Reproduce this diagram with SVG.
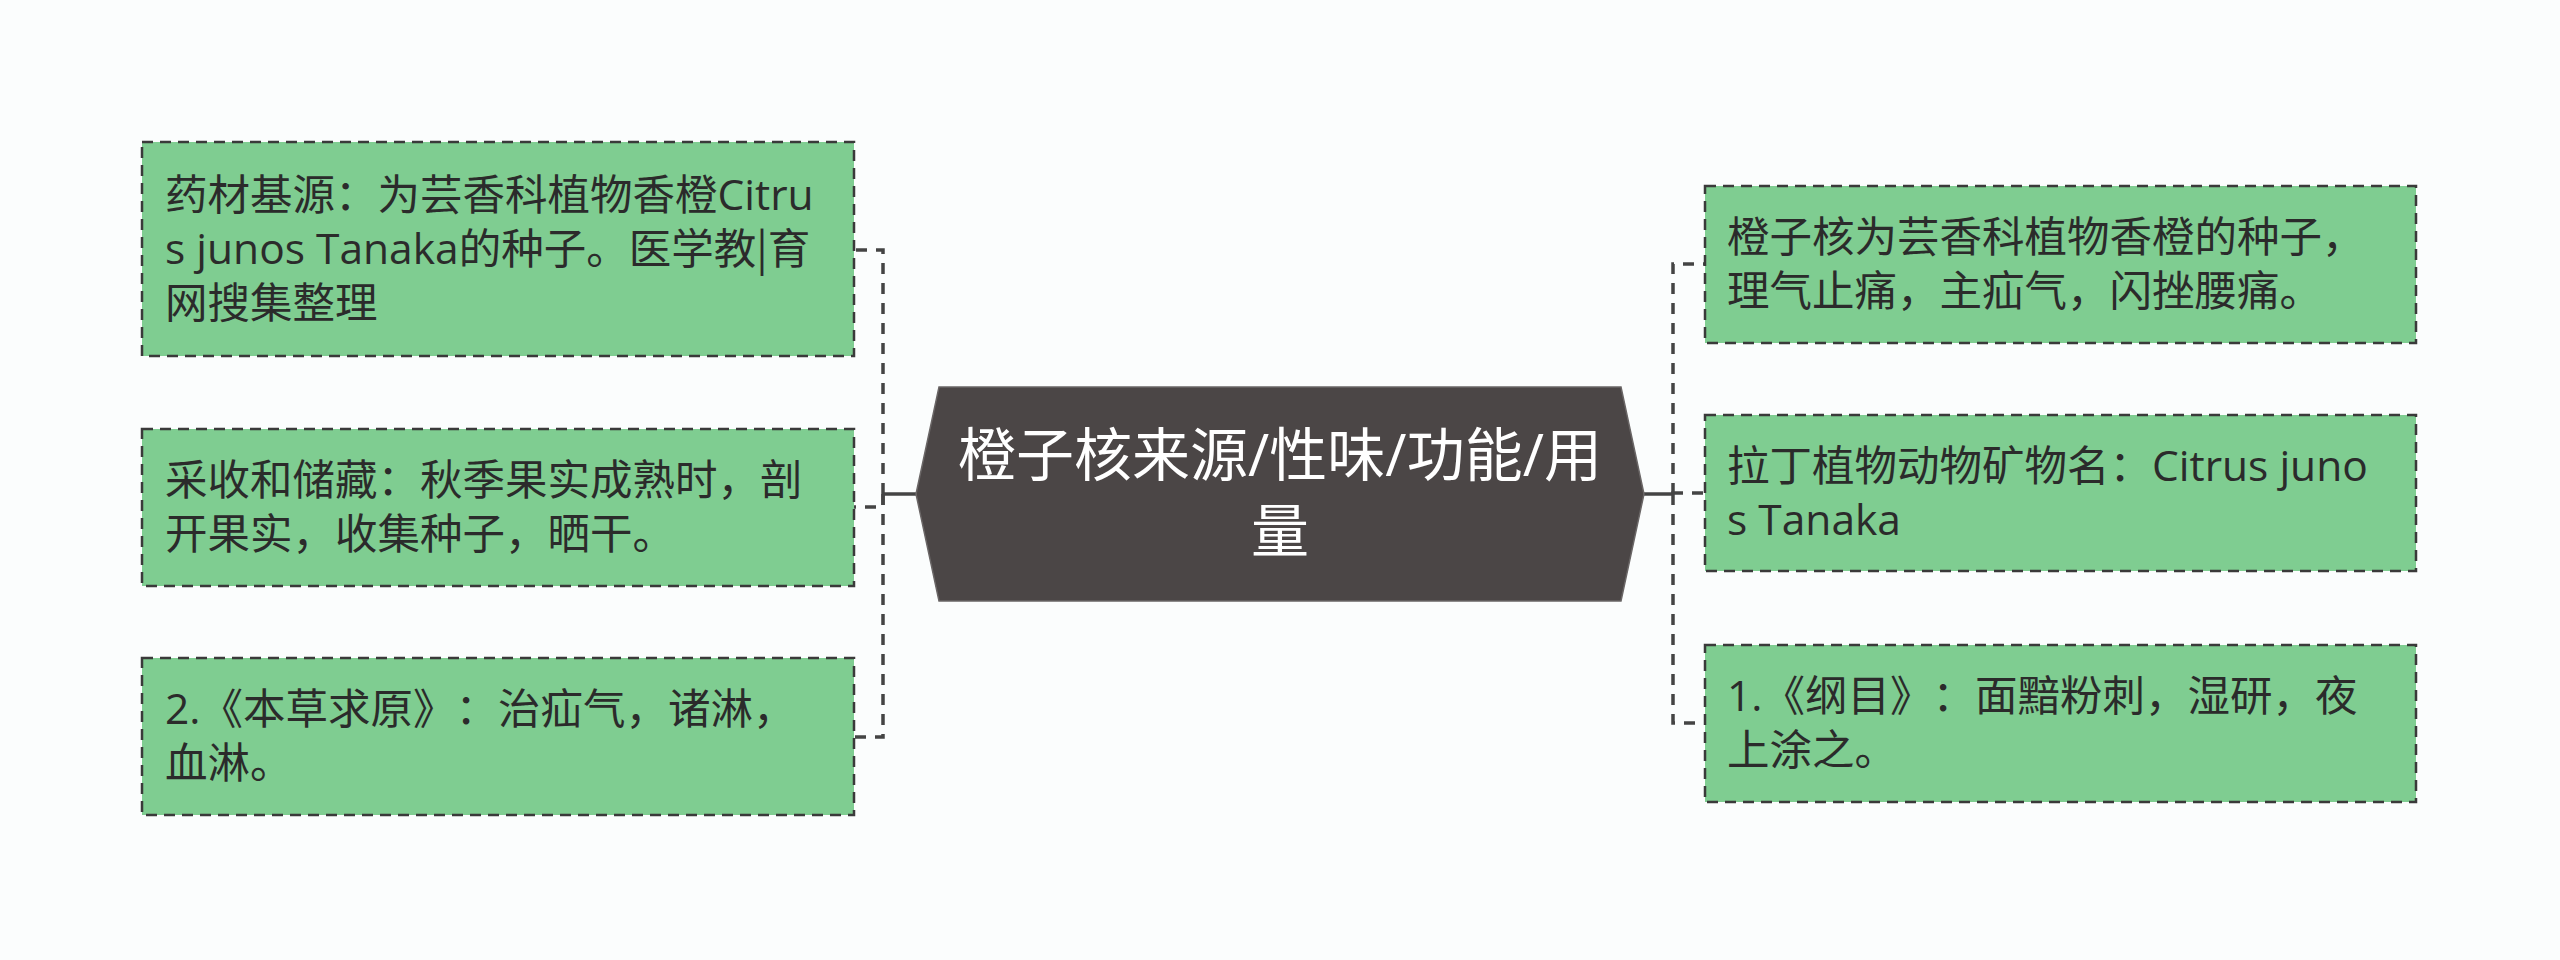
<svg xmlns="http://www.w3.org/2000/svg" width="2560" height="960" viewBox="0 0 2560 960">
<style>
.bg{fill:#fbfdfd}
.box{fill:#7fcd91;stroke:#3a3a3a;stroke-width:2.5;stroke-dasharray:11 7}
.t{font-family:"Open Sans","Noto Sans CJK SC",sans-serif;font-size:42.5px;fill:#2b2b2b;text-spacing-trim:space-all}
.cj{font-family:"Noto Sans CJK SC",sans-serif}
.ct{font-family:"Open Sans","Noto Sans CJK SC",sans-serif;font-size:58px;fill:#ffffff;text-anchor:middle}
.c{fill:none;stroke:#444;stroke-width:3.5;stroke-dasharray:11 9}
.cs{fill:none;stroke:#444;stroke-width:3.5}
</style>
<rect class="bg" x="0" y="0" width="2560" height="960"/>
<g id="connectors">
<path class="cs" d="M916 494 H883"/>
<path class="c" d="M883 494 V250 H854"/>
<path class="c" d="M883 494 V507 H854"/>
<path class="c" d="M883 494 V737 H854"/>
<path class="cs" d="M1644 494 H1673"/>
<path class="c" d="M1673 494 V264 H1705"/>
<path class="c" d="M1673 494 V493 H1705"/>
<path class="c" d="M1673 494 V723 H1705"/>
</g>
<g id="root">
<polygon points="916,494 939,387 1621,387 1644,494 1621,601 939,601" fill="#4b4646" stroke="#6a6666" stroke-width="1.5"/>
<text class="ct" x="1280" y="476">橙子核来源/性味/功能/用</text>
<text class="ct" x="1280" y="552">量</text>
</g>
<g id="left1">
<rect class="box" x="142" y="142" width="712" height="214"/>
<text class="t" x="165" y="210">药材基源：为芸香科植物香橙Citru</text>
<text class="t" x="165" y="264">s junos Tanaka的种子。医学教<tspan class="cj">|</tspan>育</text>
<text class="t" x="165" y="318">网搜集整理</text>
</g>
<g id="left2">
<rect class="box" x="142" y="429" width="712" height="157"/>
<text class="t" x="165" y="495">采收和储藏：秋季果实成熟时，剖</text>
<text class="t" x="165" y="549">开果实，收集种子，晒干。</text>
</g>
<g id="left3">
<rect class="box" x="142" y="658" width="712" height="157"/>
<text class="t" x="165" y="724">2.《本草求原》：治疝气，诸淋，</text>
<text class="t" x="165" y="778">血淋。</text>
</g>
<g id="right1">
<rect class="box" x="1705" y="186" width="711" height="157"/>
<text class="t" x="1727" y="252">橙子核为芸香科植物香橙的种子，</text>
<text class="t" x="1727" y="306">理气止痛，主疝气，闪挫腰痛。</text>
</g>
<g id="right2">
<rect class="box" x="1705" y="415" width="711" height="156"/>
<text class="t" x="1727" y="481">拉丁植物动物矿物名：Citrus juno</text>
<text class="t" x="1727" y="535">s Tanaka</text>
</g>
<g id="right3">
<rect class="box" x="1705" y="645" width="711" height="157"/>
<text class="t" x="1727" y="711">1.《纲目》：面黯粉刺，湿研，夜</text>
<text class="t" x="1727" y="765">上涂之。</text>
</g>
</svg>
